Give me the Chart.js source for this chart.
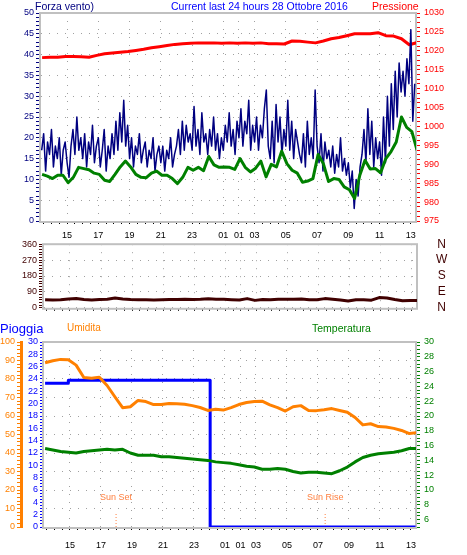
<!DOCTYPE html>
<html>
<head>
<meta charset="utf-8">
<title>Current last 24 hours</title>
<script src="https://cdn.jsdelivr.net/npm/chart.js@4.4.1/dist/chart.umd.min.js"></script>
<style>
  body { margin: 0; background: #fff; }
  #wrap { position: relative; width: 467px; height: 555px; overflow: hidden; font-family: 'Liberation Sans', Arial, sans-serif; }
  #wrap canvas { position: absolute; left: 0; }
  .lbl { position: absolute; white-space: nowrap; line-height: 12px; font-size: 10.5px; }
</style>
</head>
<body>
<div id="wrap">
  <canvas id="chart-wind" width="467" height="245" style="top:0"></canvas>
  <canvas id="chart-dir" width="467" height="80" style="top:236px"></canvas>
  <canvas id="chart-rain" width="467" height="239" style="top:316px"></canvas>

  <div class="lbl" style="left:35px;top:0;color:#000080">Forza vento)</div>
  <div class="lbl" style="left:171px;top:0;color:#0000ff">Current last 24 hours 28 Ottobre 2016</div>
  <div class="lbl" style="left:372px;top:0;color:#ff0000">Pressione</div>

  <div class="lbl" style="left:0;top:321px;font-size:13px;line-height:15px;color:#0000ff">Pioggia</div>
  <div class="lbl" style="left:67px;top:322px;font-size:10px;color:#ff8000">Umidita</div>
  <div class="lbl" style="left:312px;top:322px;color:#008000">Temperatura</div>
</div>

<script>
const NAVY = '#000080', RED = '#ff0000', GREEN = '#008000', ORANGE = '#ff8000', BLUE = '#0000ff', BROWN = '#400000';
const SUN = '#ff8040';
const GRID = '#a0a0a0';
const FONT = "'Liberation Sans', Arial, sans-serif";

// --- TIME AXIS (hours since midnight of the 27th; DST repeats 01) ---
const hourMin = 13.33, hourMax = 37.33;
const labelHours = [15, 17, 19, 21, 23, 25, 26, 27, 29, 31, 33, 35, 37];
const hourLabels = ['15', '17', '19', '21', '23', '01', '01', '03', '05', '07', '09', '11', '13'];

// --- DATA ---
// wind gusts, every 7.5 min
const gustStart = 13.375, gustStep = 0.125;
const windGust = [
  17, 21, 12, 19, 16,
  22, 13, 18, 15, 20, 11, 17, 19,
  14, 10.5, 18, 22, 16, 25, 17, 20,
  15, 21, 13, 19, 16, 23, 14, 18,
  20, 13, 17, 22, 12, 18, 15, 21,
  16, 24, 17, 26, 19, 29, 18, 23,
  15, 20, 13, 18, 16, 21, 14, 17,
  19, 13, 17, 15, 20, 12, 16, 18,
  14, 18, 12, 17, 15, 20, 13, 16,
  18, 22, 16, 24, 17, 23, 19, 21,
  17, 27.5, 18, 22, 16, 26, 19, 21,
  16, 22, 18, 25, 17, 21, 15, 20,
  17, 23, 19, 26, 18, 22, 16, 24,
  20, 27, 18, 24, 21, 29, 17, 23,
  19, 25, 17, 23, 20, 27, 31.5, 18,
  15, 24, 14, 28, 19, 25, 16, 22,
  18, 29, 17, 24, 15, 22, 19, 16,
  14, 21, 13, 24, 16, 20, 15, 31.5,
  18, 14, 21, 12, 19, 15, 17, 13,
  18, 11.5, 16, 13, 20, 12, 15, 11,
  14, 8, 12, 3, 10, 6, 13, 16,
  22, 14, 27, 16, 24, 13, 20, 15,
  19, 11, 25, 14, 30, 18, 33, 22,
  36, 25, 38, 31, 36, 30, 39, 33,
  46, 24, 33
];

// average wind, every 20 min
const avgStart = 13.4, avgStep = 1 / 3;
const windAvg = [
  11.2, 10.8, 10.2, 11.0, 11.0, 9.2, 10.5, 12.9, 12.6, 12.3,
  11.5, 11.2, 9.8, 9.5, 11.2, 13.0, 14.4, 13.0, 11.2, 10.5,
  10.4, 11.5, 12.0, 11.0, 11.0, 10.2, 9.0, 10.5, 12.9, 12.2,
  12.9, 12.1, 15.5, 13.5, 12.9, 13.0, 12.9, 12.4, 15.0, 12.9,
  11.8, 12.7, 14.4, 10.6, 13.6, 13.0, 16.8, 13.8, 12.2, 11.5,
  9.3, 9.6, 10.2, 16.0, 13.8, 9.5, 10.2, 10.0, 8.2, 7.5,
  5.4, 11.0, 14.6, 12.5, 12.6, 11.6, 15.0, 16.7, 19.0, 25.0,
  22.5, 21.5, 17
];

// half-hourly series
const halfStart = 13.4, halfStep = 0.5;
const pressure = [
  1018.2, 1018.3, 1018.3, 1018.5, 1018.5, 1018.4, 1018.3, 1018.8, 1019.2, 1019.4,
  1019.6, 1019.8, 1020.1, 1020.4, 1020.8, 1021.1, 1021.4, 1021.7, 1021.9, 1022.0,
  1022.1, 1022.1, 1022.1, 1022.0, 1022.1, 1022.0, 1022.1, 1022.0, 1022.1, 1021.9,
  1021.9, 1021.8, 1022.6, 1022.5, 1022.3, 1022.1, 1022.6, 1023.2, 1023.5, 1024.0,
  1024.5, 1024.5, 1024.5, 1024.8, 1024.0, 1023.9, 1023.2, 1021.6, 1022.2
];
const windDir = [
  45, 44, 45, 50, 52, 47, 44, 47, 49, 55,
  50, 47, 46, 45, 44, 46, 47, 47, 48, 47,
  48, 51, 49, 48, 46, 44, 52, 42, 47, 45,
  48, 49, 48, 50, 46, 45, 52, 48, 44, 38,
  46, 45, 43, 58, 56, 47, 40, 42, 41
];
const humidity = [
  88.8, 89.9, 90.6, 90.4, 87.5, 80.8, 80.4, 81.0, 76.5, 70.4,
  64.5, 65.0, 68.4, 67.8, 66.2, 66.2, 66.8, 66.6, 66.3, 65.6,
  64.6, 63.0, 63.6, 63.2, 64.5, 66.2, 67.3, 67.8, 68.0, 66.0,
  64.5, 62.7, 65.0, 65.6, 63.0, 62.9, 63.4, 64.0, 63.0, 62.0,
  59.2, 55.2, 55.8, 54.3, 54.0, 53.3, 52.2, 50.5, 51.0
];
const temperature = [
  15.6, 15.4, 15.2, 15.1, 15.0, 15.2, 15.3, 15.4, 15.5, 15.4,
  15.5, 15.0, 14.7, 14.7, 14.7, 14.5, 14.5, 14.4, 14.3, 14.2,
  14.1, 14.0, 13.8, 13.7, 13.6, 13.4, 13.2, 13.1, 12.8, 12.8,
  12.9, 12.8, 12.5, 12.3, 12.4, 12.4, 12.3, 12.2, 12.6, 13.1,
  13.8, 14.4, 14.7, 14.9, 15.0, 15.1, 15.3, 15.6, 15.6
];

// rain (stepped)
const rainTimes = [13.4, 14.9, 24.05, 37.3];
const rainValues = [23.3, 23.8, 0, 0];

const sunTimes = [17.98, 31.47];
const sunLabels = ['Sun Set', 'Sun Rise'];

const dirValues = [0, 90, 180, 270, 360];
const dirLabels = ['N', 'E', 'S', 'W', 'N'];

// --- HELPERS ---
function toPoints(start, step, values) {
  return values.map((v, i) => ({ x: start + i * step, y: v }));
}
function makeTicks(min, max, step) {
  const t = [];
  const n = Math.round((max - min) / step);
  for (let i = 0; i <= n; i++) t.push({ value: +(min + i * step).toFixed(3) });
  return t;
}
function isMult(v, m) {
  return Math.abs(v / m - Math.round(v / m)) < 1e-6;
}

function timeAxis(height, showLabels, pad) {
  return {
    type: 'linear', position: 'bottom', min: hourMin, max: hourMax,
    afterBuildTicks: s => { s.ticks = makeTicks(13.5, 37, 0.5); },
    afterFit: s => { s.height = height; },
    ticks: {
      display: showLabels, autoSkip: false, maxRotation: 0, color: '#000', padding: pad,
      callback: v => { const i = labelHours.indexOf(v); return i < 0 ? '' : hourLabels[i]; }
    },
    grid: {
      color: c => (c.tick && labelHours.includes(c.tick.value)) ? GRID : 'rgba(0,0,0,0)',
      tickColor: '#000', tickLength: 3
    },
    border: { display: false, dash: [1, 7] }
  };
}

function valueAxis(o) {
  return {
    type: 'linear', position: o.position, weight: o.weight || 0, min: o.min, max: o.max,
    afterBuildTicks: s => { s.ticks = makeTicks(o.min, o.max, o.step); },
    afterFit: s => { s.width = o.width; },
    ticks: {
      autoSkip: false, color: o.color, padding: o.padding,
      callback: v => isMult(v, o.major) ? v : ''
    },
    grid: {
      drawOnChartArea: !!o.gridOn,
      color: c => (c.tick && isMult(c.tick.value, o.major)) ? GRID : 'rgba(0,0,0,0)',
      tickColor: o.color, tickLength: o.tickLength
    },
    border: { display: !!o.border, color: o.border || GRID, width: 3, dash: [1, 7] }
  };
}

const framePlugin = {
  id: 'frame',
  beforeDatasetsDraw(chart) {
    const a = chart.chartArea, ctx = chart.ctx;
    ctx.save();
    ctx.strokeStyle = '#c0c0c0';
    ctx.lineWidth = 2;
    ctx.strokeRect(a.left - 1, a.top, a.width + 1, a.height + 1);
    ctx.restore();
  }
};

const sunPlugin = {
  id: 'sunText',
  afterDatasetsDraw(chart) {
    const xs = chart.scales.x, ys = chart.scales.yHum, ctx = chart.ctx;
    ctx.save();
    ctx.fillStyle = SUN;
    ctx.font = '9px ' + FONT;
    ctx.textAlign = 'center';
    ctx.textBaseline = 'middle';
    sunTimes.forEach((t, i) => ctx.fillText(sunLabels[i], xs.getPixelForValue(t), ys.getPixelForValue(16)));
    ctx.restore();
  }
};

Chart.defaults.font.family = FONT;
Chart.defaults.font.size = 9;
Chart.defaults.color = '#000';

const common = {
  responsive: false,
  animation: false,
  events: [],
  parsing: false,
  normalized: true,
  elements: { point: { radius: 0 }, line: { tension: 0, borderJoinStyle: 'round' } },
  plugins: { legend: { display: false }, tooltip: { enabled: false } }
};

// --- WIND + PRESSURE ---
new Chart(document.getElementById('chart-wind'), {
  type: 'line',
  data: {
    datasets: [
      { data: toPoints(avgStart, avgStep, windAvg), borderColor: GREEN, borderWidth: 3, yAxisID: 'ySpeed' },
      { data: toPoints(gustStart, gustStep, windGust), borderColor: NAVY, borderWidth: 1.5, yAxisID: 'ySpeed' },
      { data: toPoints(halfStart, halfStep, pressure), borderColor: RED, borderWidth: 3, yAxisID: 'yPress' }
    ]
  },
  options: Object.assign({}, common, {
    layout: { padding: { top: 13, left: 0, right: 0, bottom: 0 } },
    scales: {
      x: timeAxis(24, true, 6),
      ySpeed: valueAxis({ position: 'left', min: 0, max: 50, step: 1, major: 5, color: NAVY, width: 41, tickLength: 5, padding: 2, gridOn: true }),
      yPress: valueAxis({ position: 'right', min: 975, max: 1030, step: 1.25, major: 5, color: RED, width: 51, tickLength: 4, padding: 4 })
    }
  }),
  plugins: [framePlugin]
});

// --- WIND DIRECTION ---
new Chart(document.getElementById('chart-dir'), {
  type: 'line',
  data: {
    datasets: [
      { data: toPoints(halfStart, halfStep, windDir), borderColor: BROWN, borderWidth: 3, yAxisID: 'yDir' }
    ]
  },
  options: Object.assign({}, common, {
    layout: { padding: { top: 8, left: 0, right: 0, bottom: 0 } },
    scales: {
      x: timeAxis(8, false, 2),
      yDir: valueAxis({ position: 'left', min: 0, max: 360, step: 15, major: 90, color: BROWN, width: 44, tickLength: 5, padding: 2, gridOn: true }),
      yDirName: {
        type: 'linear', position: 'right', min: 0, max: 360,
        afterBuildTicks: s => { s.ticks = dirValues.map(v => ({ value: v })); },
        afterFit: s => { s.width = 50; },
        ticks: { autoSkip: false, color: BROWN, font: { size: 12 }, padding: 1, crossAlign: 'center', callback: (v, i) => dirLabels[i] },
        grid: { drawOnChartArea: false, drawTicks: true, tickLength: 18, tickColor: 'rgba(0,0,0,0)' },
        border: { display: false }
      }
    }
  }),
  plugins: [framePlugin]
});

// --- RAIN, HUMIDITY, TEMPERATURE ---
new Chart(document.getElementById('chart-rain'), {
  type: 'line',
  data: {
    datasets: [
      { data: toPoints(halfStart, halfStep, humidity), borderColor: ORANGE, borderWidth: 3, yAxisID: 'yHum' },
      { data: toPoints(halfStart, halfStep, temperature), borderColor: GREEN, borderWidth: 3, yAxisID: 'yTemp' },
      { data: rainTimes.map((t, i) => ({ x: t, y: rainValues[i] })), borderColor: BLUE, borderWidth: 3, stepped: true, yAxisID: 'yRain' },
      ...sunTimes.map(t => ({
        data: [{ x: t, y: 0 }, { x: t, y: 8 }], borderColor: SUN, borderWidth: 1, borderDash: [1, 2], yAxisID: 'yHum'
      }))
    ]
  },
  options: Object.assign({}, common, {
    layout: { padding: { top: 26, left: 0, right: 0, bottom: 0 } },
    scales: {
      x: timeAxis(28, true, 10),
      yHum: valueAxis({ position: 'left', weight: 1, min: 0, max: 100, step: 2, major: 10, color: ORANGE, width: 21, tickLength: 4, padding: 2, gridOn: true, border: ORANGE }),
      yRain: valueAxis({ position: 'left', weight: 0, min: 0, max: 30, step: 0.5, major: 2, color: BLUE, width: 23, tickLength: 4, padding: 2 }),
      yTemp: valueAxis({ position: 'right', min: 5, max: 30, step: 0.5, major: 2, color: GREEN, width: 51, tickLength: 4, padding: 4 })
    }
  }),
  plugins: [framePlugin, sunPlugin]
});
</script>
</body>
</html>
